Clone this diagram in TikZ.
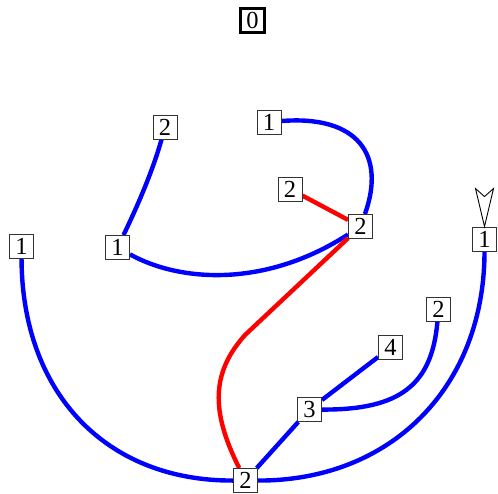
\documentclass[tikz,border=0pt]{standalone}
\usepackage{fontspec}
\setmainfont{Liberation Serif}
\usetikzlibrary{backgrounds}
\begin{document}
\begin{tikzpicture}[x=1pt,y=-1pt,
  vbox/.style={draw=black!80, line width=0.9pt, fill=white, minimum size=24pt,
    inner sep=0pt, font=\fontsize{24.5}{26}\selectfont},
  rootbox/.style={vbox, draw=black, line width=3pt},
  blueedge/.style={draw=blue, line width=4.4pt},
  rededge/.style={draw=red, line width=4.4pt},
  entry/.style={draw=black, line width=0.9pt, fill=white, line join=miter}]
\useasboundingbox (0,0) rectangle (498,493);

% vertices
\node[rootbox] (r) at (252.5,20) {0};
\node[vbox] (a) at (165,127) {2};
\node[vbox] (b) at (269,122) {1};
\node[vbox] (c) at (290,189) {2};
\node[vbox] (d) at (360.5,226.5) {2};
\node[vbox] (e) at (21.5,246.5) {1};
\node[vbox] (f) at (117.5,247.5) {1};
\node[vbox] (g) at (484.5,239) {1};
\node[vbox] (h) at (438.5,309) {2};
\node[vbox] (i) at (390.5,347.5) {4};
\node[vbox] (j) at (309.5,409.5) {3};
\node[vbox] (k) at (245.5,480.5) {2};

% edges, kept behind the boxes
\begin{scope}[on background layer]
  \draw[blueedge] (a) .. controls (153,170) and (138,205) .. (f);
  \draw[blueedge] (f) .. controls (180,282) and (265,288) .. (d);
  \draw[blueedge] (b) .. controls (358,115) and (386,155) .. (d);
  \draw[rededge] (c) -- (d);
  \draw[rededge] (d) -- (245,335) .. controls (212,372) and (210,410) .. (k);
  \draw[blueedge] (e) .. controls (22,392) and (105,481) .. (k);
  \draw[blueedge] (k) .. controls (392,481) and (484.5,386) .. (g);
  \draw[blueedge] (k) -- (j);
  \draw[blueedge] (j) -- (i);
  \draw[blueedge] (j) .. controls (400,410) and (432,385) .. (h);
\end{scope}

% open entry arrowhead above the right-hand vertex
\draw[entry] (g.north) -- ++(-9,-38) -- ++(9,8) -- ++(9,-8) -- cycle;
\end{tikzpicture}
\end{document}
